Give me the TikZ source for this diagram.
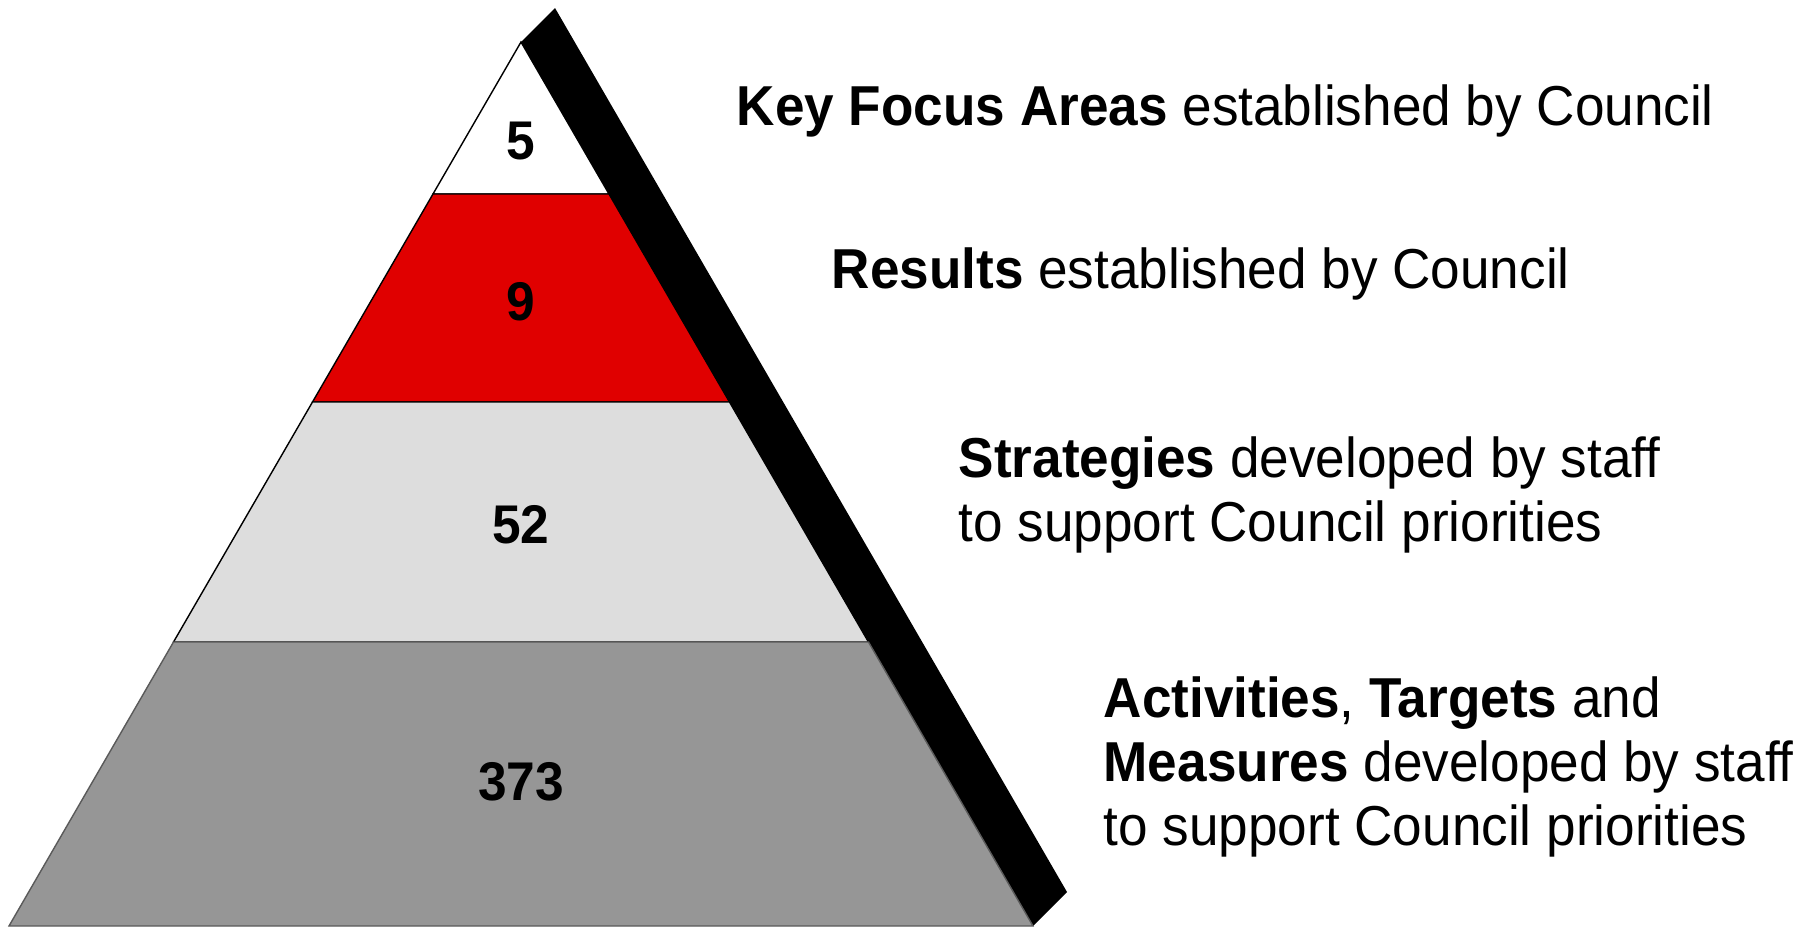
\documentclass[tikz,border=0pt]{standalone}
\usepackage{fontspec}
\setmainfont[FakeStretch=0.944]{Liberation Sans}
\usepackage{tikz}
\definecolor{tierred}{HTML}{E00000}
\definecolor{tierlight}{HTML}{DDDDDD}
\definecolor{tierdark}{HTML}{969696}
\definecolor{edgedark}{HTML}{5A5A5A}

\begin{document}
\begin{tikzpicture}[x=0.01cm,y=-0.01cm,line join=miter]

    \tikzset{tier/.style={draw=black,line width=0.4pt},
             count/.style={font=\fontsize{15.5}{18}\selectfont\bfseries},
             desc/.style={anchor=west,align=left,inner sep=0pt,
                          font=\fontsize{16}{18.2}\selectfont}}
    \useasboundingbox (0,0) rectangle (1814,927);

    % black bar along the right side
    \fill[black] (521,42) -- (555,8) -- (1067,892) -- (1033,926) -- cycle;

    % tiers, top to bottom
    \filldraw[tier,fill=white] (521,42) -- (609,194) -- (433,194) -- cycle;
    \filldraw[tier,fill=tierred] (433,194) -- (609,194) -- (729.5,402) -- (312.5,402) -- cycle;
    \filldraw[tier,fill=tierlight] (312.5,402) -- (729.5,402) -- (868.5,642) -- (173.5,642) -- cycle;
    \filldraw[tier,draw=edgedark,fill=tierdark] (173.5,642) -- (868.5,642) -- (1033,926) -- (9,926) -- cycle;

    \node[count] (n5) at (521,141) {5};
    \node[count] (n9) at (521,302) {9};
    \node[count] (n52) at (521,525) {52};
    \node[count] (n373) at (521,782) {373};

    \node[desc] (kfa) at (736,111) {\textbf{Key Focus Areas} established by Council};
    \node[desc] (res) at (831,273.5) {\textbf{Results} established by Council};
    \node[desc] (strat) at (958,494.5) {\textbf{Strategies} developed by staff\\to support Council priorities};
    \node[desc] (act) at (1103,766.5) {\textbf{Activities}, \textbf{Targets} and\\\textbf{Measures} developed by staff\\to support Council priorities};
\end{tikzpicture}
\end{document}
